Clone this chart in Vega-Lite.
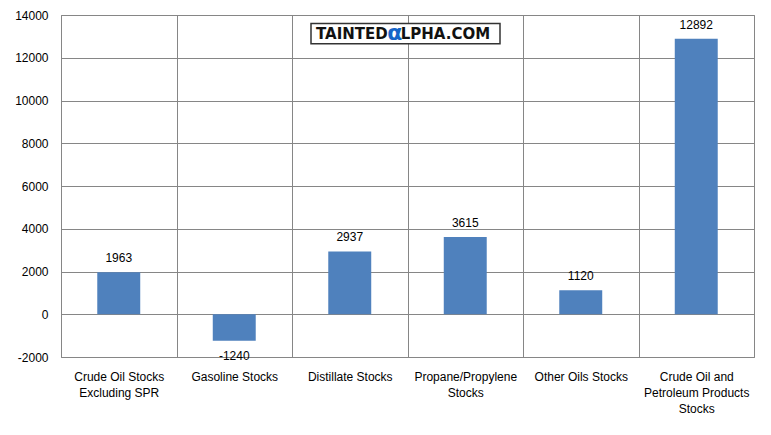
{
  "$schema": "https://vega.github.io/schema/vega-lite/v6.json",
  "width": 693,
  "height": 342,
  "autosize": "none",
  "padding": {"left": 61, "top": 15, "right": 17, "bottom": 78},
  "background": "#ffffff",
  "config": {
    "view": {"stroke": "#868686", "strokeWidth": 1},
    "font": "Liberation Sans"
  },
  "data": {
    "values": [
      {"category": "Crude Oil Stocks|Excluding SPR", "value": 1963},
      {"category": "Gasoline Stocks", "value": -1240},
      {"category": "Distillate Stocks", "value": 2937},
      {"category": "Propane/Propylene|Stocks", "value": 3615},
      {"category": "Other Oils Stocks", "value": 1120},
      {"category": "Crude Oil and|Petroleum Products|Stocks", "value": 12892}
    ]
  },
  "encoding": {
    "x": {
      "field": "category",
      "type": "nominal",
      "sort": null,
      "scale": {"paddingInner": 0, "paddingOuter": 0},
      "axis": {
        "title": null,
        "labelAngle": 0,
        "labelExpr": "split(datum.label, '|')",
        "labelLineHeight": 16,
        "labelFontSize": 12,
        "labelColor": "#000000",
        "labelPadding": 14,
        "labelBaseline": "top",
        "ticks": false,
        "domain": false,
        "grid": true,
        "gridColor": "#868686",
        "gridOpacity": 1,
        "tickBand": "extent"
      }
    },
    "y": {
      "field": "value",
      "type": "quantitative",
      "scale": {"domain": [-2000, 14000], "nice": false},
      "axis": {
        "title": null,
        "values": [-2000, 0, 2000, 4000, 6000, 8000, 10000, 12000, 14000],
        "labelExpr": "'' + datum.value",
        "labelFontSize": 12,
        "labelColor": "#000000",
        "labelPadding": 13,
        "ticks": false,
        "domain": false,
        "grid": true,
        "gridColor": "#868686",
        "gridOpacity": 1
      }
    }
  },
  "layer": [
    {"mark": {"type": "bar", "color": "#4F81BD", "width": {"band": 0.372}}},
    {
      "transform": [{"filter": "datum.value >= 0"}],
      "mark": {"type": "text", "baseline": "middle", "dy": -14, "fontSize": 12, "color": "#000000"},
      "encoding": {"text": {"field": "value", "type": "nominal"}}
    },
    {
      "transform": [{"filter": "datum.value < 0"}],
      "mark": {"type": "text", "baseline": "middle", "dy": 15, "fontSize": 12, "color": "#000000"},
      "encoding": {"text": {"field": "value", "type": "nominal"}}
    },
    {
      "data": {"values": [{"a": "Distillate Stocks", "b": "Propane/Propylene|Stocks", "top": 13600, "bottom": 12660}]},
      "mark": {"type": "rect", "fill": "#ffffff", "stroke": "#333333", "strokeWidth": 1.5, "xOffset": -38.75, "x2Offset": 34.75},
      "encoding": {
        "x": {"field": "a", "type": "nominal", "bandPosition": 0.5},
        "x2": {"field": "b", "bandPosition": 0.5},
        "y": {"field": "top", "type": "quantitative"},
        "y2": {"field": "bottom"}
      }
    },
    {
      "data": {"values": [{"a": "Distillate Stocks", "t": "TAINTED", "v": 13130}]},
      "mark": {"type": "text", "align": "right", "baseline": "middle", "dx": 38, "fontSize": 15, "fontWeight": "bold", "font": "DejaVu Sans", "color": "#111111"},
      "encoding": {
        "x": {"field": "a", "type": "nominal"},
        "y": {"field": "v", "type": "quantitative"},
        "text": {"field": "t"}
      }
    },
    {
      "data": {"values": [{"a": "Distillate Stocks", "t": "α", "v": 13130}]},
      "mark": {"type": "text", "align": "center", "baseline": "middle", "dx": 45, "dy": -1, "fontSize": 22, "fontWeight": "bold", "font": "DejaVu Sans", "color": "#1565C8"},
      "encoding": {
        "x": {"field": "a", "type": "nominal"},
        "y": {"field": "v", "type": "quantitative"},
        "text": {"field": "t"}
      }
    },
    {
      "data": {"values": [{"a": "Distillate Stocks", "t": "LPHA.COM", "v": 13130}]},
      "mark": {"type": "text", "align": "left", "baseline": "middle", "dx": 51, "fontSize": 15, "fontWeight": "bold", "font": "DejaVu Sans", "color": "#111111"},
      "encoding": {
        "x": {"field": "a", "type": "nominal"},
        "y": {"field": "v", "type": "quantitative"},
        "text": {"field": "t"}
      }
    }
  ]
}
